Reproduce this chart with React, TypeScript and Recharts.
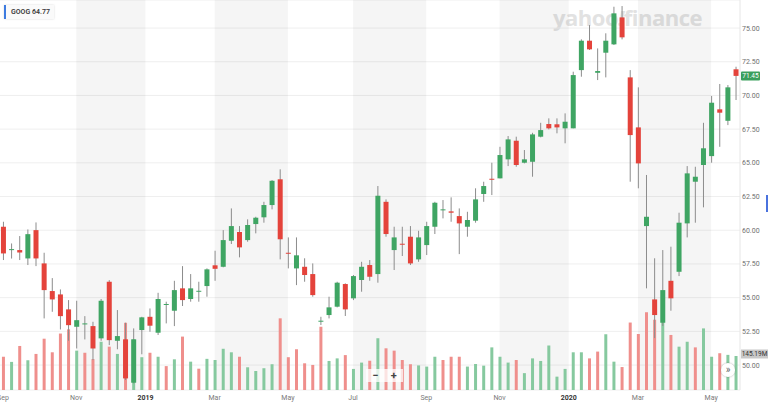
import React from "react";
import {
  ComposedChart,
  Bar,
  Cell,
  XAxis,
  YAxis,
  CartesianGrid,
  ReferenceArea,
  ReferenceLine,
} from "recharts";

// weekly GOOG candles, Sep 2018 - May 2020 (prices split-adjusted, volume in millions)
const weeks = [
  "2018-09-03", "2018-09-10", "2018-09-17", "2018-09-24", "2018-10-01", "2018-10-08", "2018-10-15", "2018-10-22",
  "2018-10-29", "2018-11-05", "2018-11-12", "2018-11-19", "2018-11-26", "2018-12-03", "2018-12-10", "2018-12-17",
  "2018-12-24", "2018-12-31", "2019-01-07", "2019-01-14", "2019-01-21", "2019-01-28", "2019-02-04", "2019-02-11",
  "2019-02-18", "2019-02-25", "2019-03-04", "2019-03-11", "2019-03-18", "2019-03-25", "2019-04-01", "2019-04-08",
  "2019-04-15", "2019-04-22", "2019-04-29", "2019-05-06", "2019-05-13", "2019-05-20", "2019-05-27", "2019-06-03",
  "2019-06-10", "2019-06-17", "2019-06-24", "2019-07-01", "2019-07-08", "2019-07-15", "2019-07-22", "2019-07-29",
  "2019-08-05", "2019-08-12", "2019-08-19", "2019-08-26", "2019-09-02", "2019-09-09", "2019-09-16", "2019-09-23",
  "2019-09-30", "2019-10-07", "2019-10-14", "2019-10-21", "2019-10-28", "2019-11-04", "2019-11-11", "2019-11-18",
  "2019-11-25", "2019-12-02", "2019-12-09", "2019-12-16", "2019-12-23", "2019-12-30", "2020-01-06", "2020-01-13",
  "2020-01-20", "2020-01-27", "2020-02-03", "2020-02-10", "2020-02-17", "2020-02-24", "2020-03-02", "2020-03-09",
  "2020-03-16", "2020-03-23", "2020-03-30", "2020-04-06", "2020-04-13", "2020-04-20", "2020-04-27", "2020-05-04",
  "2020-05-11", "2020-05-18", "2020-05-25",
];

const opens = [
  60.26, 58.55, 58.53, 57.91, 60.01, 57.54, 55.49, 55.24, 54.13, 52.84, 53.05, 52.89, 51.98, 56.18, 51.8, 51.91,
  48.69, 52.6, 53.58, 52.4, 54.48, 54.03, 55.69, 54.9, 55.47, 55.86, 57.4, 57.29, 59.22, 59.87, 59.27, 60.46,
  60.96, 61.87, 63.78, 58.33, 57.17, 57.29, 56.75, 53.27, 53.71, 54.33, 56.01, 54.95, 56.31, 57.42, 56.75, 62.11,
  58.53, 59.0, 59.52, 57.84, 58.9, 60.26, 61.5, 61.4, 61.05, 60.26, 60.71, 62.69, 63.82, 63.85, 65.26, 66.64,
  65.01, 65.08, 66.94, 67.88, 67.86, 67.56, 67.56, 71.88, 74.06, 71.68, 73.17, 73.79, 75.79, 71.34, 67.63, 60.31,
  54.87, 53.14, 56.25, 56.92, 60.51, 63.6, 64.84, 65.5, 68.97, 68.12, 71.94,
];

const highs = [
  60.63, 59.02, 59.57, 60.06, 60.58, 58.33, 56.45, 55.61, 54.82, 54.77, 53.63, 53.21, 54.9, 56.3, 54.08, 53.14,
  52.72, 53.58, 54.2, 55.36, 54.7, 56.25, 57.34, 56.75, 56.18, 57.17, 58.48, 60.01, 61.62, 60.31, 60.81, 61.0,
  62.11, 63.72, 64.52, 59.47, 59.47, 57.92, 57.54, 53.58, 55.07, 56.18, 56.06, 56.68, 57.66, 57.79, 63.28, 62.29,
  60.26, 60.26, 60.31, 59.96, 60.63, 62.11, 62.24, 62.44, 61.62, 61.37, 63.11, 63.6, 65.01, 66.19, 66.99, 66.94,
  65.95, 67.23, 67.97, 68.3, 68.3, 68.67, 71.76, 74.16, 75.22, 73.49, 74.61, 76.58, 76.63, 71.88, 70.6, 64.1,
  57.92, 58.53, 58.78, 61.3, 64.76, 64.71, 67.97, 69.96, 70.85, 70.77, 72.13,
];

const lows = [
  57.79, 57.9, 57.79, 57.42, 57.34, 53.46, 53.95, 52.64, 51.8, 51.23, 51.9, 50.37, 51.8, 51.48, 51.17, 48.89,
  48.64, 50.8, 52.47, 52.23, 53.09, 52.89, 54.38, 54.7, 54.7, 55.07, 56.25, 57.25, 58.98, 57.99, 59.15, 59.77,
  60.56, 61.55, 57.84, 57.17, 55.93, 56.18, 55.07, 52.97, 53.46, 54.28, 53.64, 54.82, 55.44, 56.25, 56.11, 59.52,
  57.05, 58.09, 57.42, 57.66, 58.16, 59.72, 60.88, 60.63, 58.23, 59.52, 60.56, 62.11, 62.61, 63.85, 64.76, 64.71,
  64.96, 63.97, 66.89, 67.48, 67.19, 66.45, 67.56, 71.39, 73.37, 71.14, 71.34, 73.74, 74.16, 63.6, 63.11, 55.69,
  52.0, 52.9, 54.03, 56.6, 59.47, 60.56, 61.7, 65.01, 66.19, 67.8, 69.66,
];

const closes = [
  58.28, 58.6, 58.35, 59.71, 57.91, 55.56, 54.87, 53.63, 52.96, 53.33, 53.09, 51.23, 54.77, 51.85, 52.15, 49.01,
  51.91, 53.54, 52.92, 54.9, 54.53, 55.56, 54.82, 55.69, 55.51, 57.1, 57.14, 59.27, 60.31, 58.73, 60.39, 60.93,
  61.87, 63.67, 59.33, 58.29, 58.14, 56.68, 55.19, 53.29, 54.28, 56.11, 54.13, 56.6, 57.29, 56.55, 62.56, 59.72,
  59.47, 58.95, 57.54, 59.47, 60.31, 62.04, 61.55, 61.3, 60.51, 60.76, 62.29, 63.28, 63.78, 65.58, 66.74, 64.84,
  65.26, 67.11, 67.43, 67.56, 67.63, 68.05, 71.51, 74.06, 73.42, 71.81, 74.06, 76.09, 74.31, 67.06, 64.96, 61.0,
  53.71, 55.56, 54.95, 60.56, 64.22, 63.97, 66.08, 69.46, 68.72, 70.6, 71.45,
];

const volumes = [
  142, 120, 188, 127, 154, 219, 161, 241, 259, 168, 159, 132, 206, 185, 154, 287,
  216, 140, 159, 142, 102, 131, 228, 121, 91, 133, 128, 176, 161, 142, 97, 81,
  93, 110, 306, 140, 174, 114, 107, 270, 124, 135, 149, 90, 117, 125, 221, 178,
  168, 128, 110, 105, 100, 142, 128, 142, 142, 100, 111, 104, 182, 142, 117, 128,
  72, 135, 124, 190, 57, 90, 161, 161, 135, 164, 238, 121, 98, 288, 239, 332,
  300, 295, 235, 185, 206, 182, 263, 142, 157, 150, 145.19,
];

// month labels, placed on the week index where the month begins
const monthTicks = [0, 9, 17.5, 26, 35, 43, 52, 61, 69.5, 78, 87];
const monthLabels = ["Sep", "Nov", "2019", "Mar", "May", "Jul", "Sep", "Nov", "2020", "Mar", "May"];

const priceTicks = [50, 52.5, 55, 57.5, 60, 62.5, 65, 67.5, 70, 72.5, 75];

const GREEN = "#3fa563";
const RED = "#e4433b";
const VOL_GREEN = "#86c99f";
const VOL_RED = "#ef8f8c";
const WICK = "#8c8c8c";

const rows = weeks.map((week, i) => ({
  week,
  idx: i,
  open: opens[i],
  high: highs[i],
  low: lows[i],
  close: closes[i],
  range: [lows[i], highs[i]],
  volume: volumes[i],
  volUp: closes[i] >= (i > 0 ? closes[i - 1] : opens[i]),
}));

const lastClose = closes[closes.length - 1];
const lastVolume = volumes[volumes.length - 1];

const Candle = (props: any) => {
  const { x, y, width, height, payload } = props;
  if (!payload || x == null) return null;
  const { open, close, high, low } = payload;
  const top = Math.min(y, y + height);
  const span = Math.abs(height);
  const k = span / (high - low || 1);
  const cx = x + width / 2;
  const yO = top + (high - open) * k;
  const yC = top + (high - close) * k;
  const bodyTop = Math.min(yO, yC);
  const bodyH = Math.max(1, Math.abs(yO - yC));
  return (
    <g>
      <line x1={cx} x2={cx} y1={top} y2={top + span} stroke={WICK} strokeWidth={1} />
      <rect x={x} y={bodyTop} width={width} height={bodyH} fill={close >= open ? GREEN : RED} />
    </g>
  );
};

const MonthTick = (props: any) => {
  const { x, y, payload } = props;
  const label = monthLabels[monthTicks.indexOf(payload.value)] ?? "";
  const isYear = /^\d{4}$/.test(label);
  return (
    <text
      x={x}
      y={y + 9.5}
      textAnchor="middle"
      fontSize={7}
      fill={isYear ? "#333" : "#7a7a7a"}
      fontWeight={isYear ? 700 : 400}
    >
      {label}
    </text>
  );
};

const PriceTag = (props: any) => {
  const vb = props.viewBox || {};
  const x = (vb.x ?? 0) + (vb.width ?? 0);
  const y = vb.y ?? 0;
  return (
    <g>
      <rect x={x + 1} y={y - 4.5} width={19} height={9} fill="#3a9f5c" rx={1} />
      <text x={x + 10.5} y={y} dy="0.35em" textAnchor="middle" fontSize={6.5} fill="#fff">
        {lastClose.toFixed(2)}
      </text>
    </g>
  );
};

const VolumeTag = (props: any) => {
  const vb = props.viewBox || {};
  const x = (vb.x ?? 0) + (vb.width ?? 0);
  const y = (vb.y ?? 0) - 2;
  return (
    <g>
      <rect x={x + 1} y={y - 4.5} width={27} height={9} fill="#c8c8c8" />
      <text x={x + 14.5} y={y} dy="0.35em" textAnchor="middle" fontSize={6.5} fill="#333">
        {lastVolume.toFixed(2)}M
      </text>
    </g>
  );
};

const App: React.FC = () => {
  return (
    <div
      style={{
        position: "absolute",
        left: 0,
        top: 0,
        width: 768,
        height: 412,
        background: "#fff",
        fontFamily: "Roboto, 'Liberation Sans', sans-serif",
        overflow: "hidden",
      }}
    >
      {/* watermark sits under the chart */}
      <div
        style={{
          position: "absolute",
          left: 553,
          top: 6,
          fontFamily: "'Open Sans', sans-serif",
          fontWeight: 700,
          fontSize: 22,
          lineHeight: "22px",
          color: "#e2e2e2",
          letterSpacing: -0.5,
          whiteSpace: "nowrap",
        }}
      >
        yahoo<span style={{ fontStyle: "italic" }}>!</span>finance
      </div>

      <div style={{ position: "absolute", left: 0, top: 0 }}>
        <ComposedChart
          width={768}
          height={412}
          data={rows}
          margin={{ top: 0, right: 0, bottom: 0, left: 0 }}
        >
          <XAxis
            dataKey="idx"
            type="number"
            domain={[-0.37, 90.54]}
            ticks={monthTicks}
            interval={0}
            tick={<MonthTick />}
            tickSize={0}
            tickMargin={0}
            axisLine={false}
            tickLine={false}
            height={22}
          />
          <XAxis xAxisId="vx" dataKey="idx" type="number" domain={[-0.37, 90.54]} hide />
          <YAxis
            yAxisId="price"
            orientation="right"
            domain={[48.15, 77.08]}
            ticks={priceTicks}
            interval={0}
            tickFormatter={(v: number) => v.toFixed(2)}
            tick={{ fontSize: 7, fill: "#6f6f6f" }}
            tickSize={2}
            tickMargin={0}
            tickLine={false}
            axisLine={{ stroke: "#e6e6e6" }}
            width={28}
          />
          <YAxis yAxisId="vol" domain={[0, 1665]} hide />

          {monthTicks.map((t, k) =>
            k % 2 === 1 && k + 1 < monthTicks.length ? (
              <ReferenceArea
                key={t}
                yAxisId="price"
                x1={t}
                x2={monthTicks[k + 1]}
                fill="#000"
                fillOpacity={0.04}
                stroke="none"
              />
            ) : null
          )}

          <CartesianGrid yAxisId="price" vertical={false} stroke="#efefef" />

          <Bar
            xAxisId="vx"
            yAxisId="vol"
            dataKey="volume"
            barSize={3}
            isAnimationActive={false}
          >
            {rows.map((r) => (
              <Cell key={r.week} fill={r.volUp ? VOL_GREEN : VOL_RED} />
            ))}
          </Bar>

          <Bar
            yAxisId="price"
            dataKey="range"
            barSize={5}
            shape={(p: any) => <Candle {...p} />}
            isAnimationActive={false}
          />

          <ReferenceLine yAxisId="price" y={lastClose} stroke="none" label={<PriceTag />} />
          <ReferenceLine yAxisId="vol" y={lastVolume} stroke="none" label={<VolumeTag />} />
        </ComposedChart>
      </div>

      {/* legend chip */}
      <div
        style={{
          position: "absolute",
          left: 4,
          top: 5,
          height: 14,
          padding: "0 4px 0 5px",
          background: "#fafafa",
          boxShadow: "0 0 2px rgba(0,0,0,0.15)",
          borderLeft: "2px solid #3d7be0",
          fontSize: 7,
          fontWeight: 600,
          lineHeight: "14px",
          color: "#3a3a3a",
        }}
      >
        GOOG 64.77
      </div>

      {/* zoom buttons */}
      <div
        style={{
          position: "absolute",
          left: 366,
          top: 369,
          width: 37,
          height: 13,
          background: "rgba(255,255,255,0.75)",
          display: "flex",
          justifyContent: "space-around",
          alignItems: "center",
          fontSize: 11,
          fontWeight: 700,
          color: "#444",
        }}
      >
        <span>−</span>
        <span>+</span>
      </div>

      {/* expand button */}
      <div
        style={{
          position: "absolute",
          left: 721,
          top: 363,
          width: 14,
          height: 14,
          borderRadius: "50%",
          background: "#fff",
          boxShadow: "0 0 2px rgba(0,0,0,0.3)",
          fontSize: 10,
          lineHeight: "13px",
          textAlign: "center",
          color: "#666",
        }}
      >
        »
      </div>

      <div style={{ position: "absolute", left: 766, top: 195, width: 2, height: 17, background: "#4a72de" }} />
    </div>
  );
};

export default App;
